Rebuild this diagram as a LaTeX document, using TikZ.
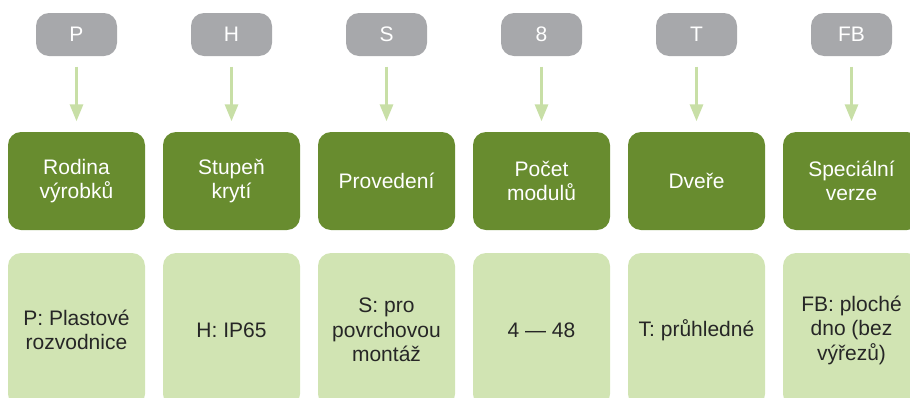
\documentclass[tikz,border=0pt]{standalone}
\usepackage{fontspec}
\setmainfont{Liberation Sans}
\usetikzlibrary{%
  arrows.meta,%
  positioning,%
  calc
}
\definecolor{codegray}{HTML}{A7A8AB}
\definecolor{paramgreen}{HTML}{688C2F}
\definecolor{valuegreen}{HTML}{D1E4B3}
\definecolor{arrowgreen}{HTML}{C8DFA6}
\definecolor{textdark}{HTML}{262626}

\begin{document}
\begin{tikzpicture}[
  x=1pt, y=-1pt,
  font=\fontsize{21}{24.5}\selectfont,
  codebox/.style={rectangle, minimum height=43pt, minimum width=81pt, inner sep=0pt, fill=codegray, text=white, rounded corners=13pt},
  parambox/.style={rectangle, minimum height=98pt, minimum width=137pt, inner sep=0pt, fill=paramgreen, text=white, align=center, rounded corners=13pt},
  valuebox/.style={rectangle, minimum height=154pt, minimum width=137pt, inner sep=0pt, fill=valuegreen, text=textdark, align=center, rounded corners=13pt},
  pointer/.style={-{Triangle[length=17pt,width=13pt]}, line width=3pt, draw=arrowgreen, shorten <=10.5pt, shorten >=10.5pt}
]
\useasboundingbox (0,0) rectangle (910,397);

\node[codebox] (kod1) at (76.5,34.5) {P};
\node[codebox] (kod2) at (231.5,34.5) {H};
\node[codebox] (kod3) at (386.5,34.5) {S};
\node[codebox] (kod4) at (541.5,34.5) {8};
\node[codebox] (kod5) at (696.5,34.5) {T};
\node[codebox] (kod6) at (851.5,34.5) {FB};

\node[parambox] (par1) at (76.5,181) {Rodina\\výrobků};
\node[parambox] (par2) at (231.5,181) {Stupeň\\krytí};
\node[parambox] (par3) at (386.5,181) {Provedení};
\node[parambox] (par4) at (541.5,181) {Počet\\modulů};
\node[parambox] (par5) at (696.5,181) {Dveře};
\node[parambox] (par6) at (851.5,181) {Speciální\\verze};

\node[valuebox] (val1) at (76.5,330) {P: Plastové\\rozvodnice};
\node[valuebox] (val2) at (231.5,330) {H: IP65};
\node[valuebox] (val3) at (386.5,330) {S: pro\\povrchovou\\montáž};
\node[valuebox] (val4) at (541.5,330) {4 — 48};
\node[valuebox] (val5) at (696.5,330) {T: průhledné};
\node[valuebox] (val6) at (851.5,330) {FB: ploché\\dno (bez\\výřezů)};

\draw[pointer] (kod1.south) -- (par1.north);
\draw[pointer] (kod2.south) -- (par2.north);
\draw[pointer] (kod3.south) -- (par3.north);
\draw[pointer] (kod4.south) -- (par4.north);
\draw[pointer] (kod5.south) -- (par5.north);
\draw[pointer] (kod6.south) -- (par6.north);

\end{tikzpicture}
\end{document}
